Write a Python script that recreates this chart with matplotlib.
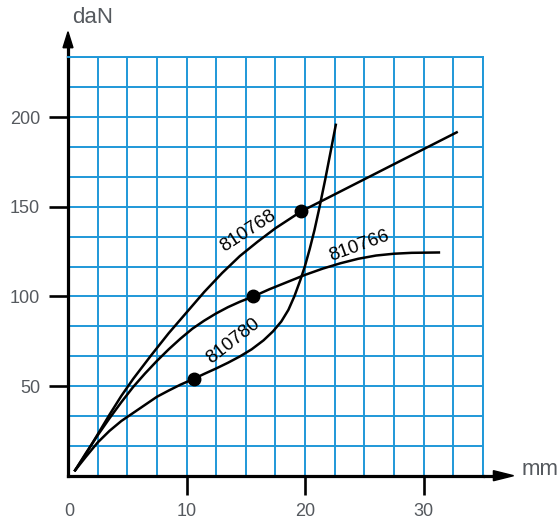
import matplotlib
matplotlib.use("Agg")
import matplotlib.pyplot as plt
import numpy as np
from matplotlib.patches import Polygon

plt.rcParams['font.family'] = ['Liberation Sans', 'DejaVu Sans']

# curves (mm, daN)
x_810768 = [0.6, 1.5, 2.5, 3.5, 4.5, 5.5, 7.0, 8.5, 10.0, 11.5, 13.0, 14.5, 16.0, 17.5,
            19.7, 22.0, 25.0, 28.0, 30.0, 32.8]
y_810768 = [3, 12, 23, 34, 44.5, 54, 67, 79.5, 91, 102.5, 113, 122.5, 130.5, 138,
            147.5, 155.2, 165.3, 175.4, 182.1, 191.5]

x_810766 = [0.6, 1.5, 2.5, 3.5, 4.5, 5.5, 6.5, 7.5, 8.5, 9.5, 10.5, 11.5, 12.5, 13.5,
            14.5, 15.65, 17.0, 18.5, 20.0, 21.5, 23.0, 24.5, 26.0, 27.5, 29.0, 31.3]
y_810766 = [3, 12.5, 22.5, 32, 41, 49.5, 57, 64, 70.5, 76.5, 82, 86.5, 90.5, 94,
            97, 100, 104, 108, 112, 115.5, 118.5, 121, 122.8, 123.8, 124.3, 124.5]

x_810780 = [0.6, 1.5, 2.5, 3.5, 4.5, 5.5, 6.5, 7.5, 8.5, 9.5, 10.6, 11.5, 12.5, 13.5,
            14.5, 15.5, 16.5, 17.3, 18.0, 18.6, 19.1, 19.6, 20.0, 20.4, 20.8, 21.2,
            21.7, 22.2, 22.6]
y_810780 = [3, 10.5, 18.5, 25, 30.5, 35, 39.5, 44, 47.5, 50.8, 54, 56.8, 59.8, 63,
            66.5, 70.5, 75.5, 80.5, 86, 92.5, 100, 109, 117, 126.5, 137, 149,
            165, 182, 195.7]

# marked points
dot_x = [19.7, 15.65, 10.6]
dot_y = [147.5, 100, 54]

labels = ['810768', '810766', '810780']
label_x = [15.2, 24.6, 13.95]
label_y = [136.3, 127.9, 75]
label_rot = [33, 20, 38]

xticks = [10, 20, 30]
yticks = [50, 100, 150, 200]

grid_blue = '#1f98d8'
grey = '#55595e'

W, H = 559, 522
fig = plt.figure(figsize=(W / 100, H / 100), dpi=100)
px_x, px_y = 11.85, 1.793  # pixels per unit
x0, y0 = 68, 475.7
ax = fig.add_axes([x0 / W, (H - y0) / H, 35 * px_x / W, (233.33 * px_y) / H])
ax.set_xlim(0, 35)
ax.set_ylim(0, 233.33)

ax.set_xticks(np.arange(0, 35.1, 2.5), minor=True)
ax.set_yticks(np.arange(0, 233.4, 50 / 3), minor=True)
ax.set_xticks(xticks)
ax.set_yticks(yticks)
ax.set_xticklabels([str(t) for t in xticks])
ax.set_yticklabels([str(t) for t in yticks])
ax.grid(which='both', color=grid_blue, lw=1.4)
ax.set_axisbelow(True)
ax.tick_params(which='minor', length=0)
ax.tick_params(which='major', length=14, width=1.9, color='k', direction='out',
               labelsize=13, labelcolor=grey, pad=6)

for s in ['top', 'right']:
    ax.spines[s].set_color(grid_blue)
    ax.spines[s].set_linewidth(1.4)
for s in ['left', 'bottom']:
    ax.spines[s].set_color('k')
    ax.spines[s].set_linewidth(2.3)

# "0" label on x axis (no tick)
ax.text(0.1, -19.7, '0', ha='center', va='center', fontsize=13, color=grey, clip_on=False)

# axis arrows
ax.plot([0, 0], [233, 240], color='k', lw=2.3, clip_on=False, solid_capstyle='butt')
ax.plot([35, 36.2], [0, 0], color='k', lw=2.3, clip_on=False, solid_capstyle='butt')
ax.add_patch(Polygon([[0, 247.6], [-0.42, 238.7], [0.42, 238.7]], closed=True,
                     color='k', clip_on=False))
ax.add_patch(Polygon([[37.6, 0], [35.9, 2.8], [35.9, -2.8]], closed=True,
                     color='k', clip_on=False))

ax.text(0.34, 255.8, 'daN', ha='left', va='center', fontsize=16, color=grey, clip_on=False)
ax.text(38.3, 3.2, 'mm', ha='left', va='center', fontsize=16, color=grey, clip_on=False)

# curves
ax.plot(x_810768, y_810768, color='k', lw=1.8, clip_on=False)
ax.plot(x_810766, y_810766, color='k', lw=1.8, clip_on=False)
ax.plot(x_810780, y_810780, color='k', lw=1.8, clip_on=False)
ax.plot(dot_x, dot_y, 'o', color='k', ms=9, clip_on=False)

for t, lx, ly, r in zip(labels, label_x, label_y, label_rot):
    ax.text(lx, ly, t, rotation=r, rotation_mode='anchor', ha='center', va='center',
            fontsize=13.5, color='k')

fig.savefig('out.png', dpi=100)
